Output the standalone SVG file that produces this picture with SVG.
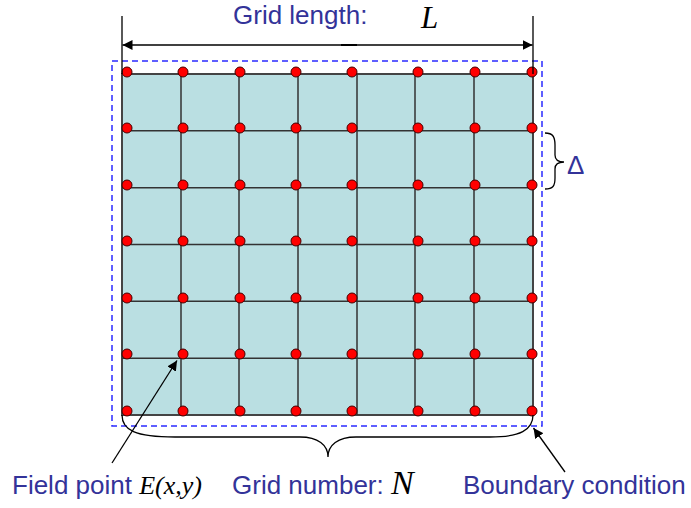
<svg xmlns="http://www.w3.org/2000/svg" width="691" height="508" viewBox="0 0 691 508">
<style>
.lbl{font-family:"Liberation Sans",Arial,sans-serif;font-size:26px;fill:#333399}
.math{font-family:"Liberation Serif","Times New Roman",serif;font-style:italic;fill:#000}
.gl{stroke:#333;stroke-width:1.5;fill:none}
.dot{fill:#ff0000;stroke:#400;stroke-width:1}
.ln{stroke:#000;stroke-width:1.3;fill:none}
</style>
<defs>
<marker id="ah" viewBox="0 0 10 10" refX="10" refY="5" markerWidth="10" markerHeight="10" markerUnits="userSpaceOnUse" orient="auto-start-reverse">
<path d="M0,0 L10,5 L0,10 z" fill="#000"/>
</marker>
</defs>
<rect width="691" height="508" fill="#fff"/>

<g id="grid">
<rect x="122" y="74" width="411" height="341" fill="#badfe2" stroke="#444" stroke-width="2"/>
<path class="gl" d="M181,74V415M239,74V415M298,74V415M357,74V415M415,74V415M474,74V415M122,130.8H533M122,187.7H533M122,244.5H533M122,301.3H533M122,358.2H533"/>
</g>

<g id="boundary">
<rect x="112" y="61" width="430" height="365" fill="none" stroke="#2a2aff" stroke-width="1.5" stroke-dasharray="6,4"/>
</g>

<g id="dots">
<g id="row1"><circle class="dot" cx="127" cy="72" r="5"/><circle class="dot" cx="183" cy="72" r="5"/><circle class="dot" cx="240" cy="72" r="5"/><circle class="dot" cx="296" cy="72" r="5"/><circle class="dot" cx="352" cy="72" r="5"/><circle class="dot" cx="418" cy="72" r="5"/><circle class="dot" cx="475" cy="72" r="5"/><circle class="dot" cx="532" cy="72" r="5"/></g>
<g id="row2"><circle class="dot" cx="127" cy="128" r="5"/><circle class="dot" cx="183" cy="128" r="5"/><circle class="dot" cx="240" cy="128" r="5"/><circle class="dot" cx="296" cy="128" r="5"/><circle class="dot" cx="352" cy="128" r="5"/><circle class="dot" cx="418" cy="128" r="5"/><circle class="dot" cx="475" cy="128" r="5"/><circle class="dot" cx="532" cy="128" r="5"/></g>
<g id="row3"><circle class="dot" cx="127" cy="185" r="5"/><circle class="dot" cx="183" cy="185" r="5"/><circle class="dot" cx="240" cy="185" r="5"/><circle class="dot" cx="296" cy="185" r="5"/><circle class="dot" cx="352" cy="185" r="5"/><circle class="dot" cx="418" cy="185" r="5"/><circle class="dot" cx="475" cy="185" r="5"/><circle class="dot" cx="532" cy="185" r="5"/></g>
<g id="row4"><circle class="dot" cx="127" cy="241" r="5"/><circle class="dot" cx="183" cy="241" r="5"/><circle class="dot" cx="240" cy="241" r="5"/><circle class="dot" cx="296" cy="241" r="5"/><circle class="dot" cx="352" cy="241" r="5"/><circle class="dot" cx="418" cy="241" r="5"/><circle class="dot" cx="475" cy="241" r="5"/><circle class="dot" cx="532" cy="241" r="5"/></g>
<g id="row5"><circle class="dot" cx="127" cy="298" r="5"/><circle class="dot" cx="183" cy="298" r="5"/><circle class="dot" cx="240" cy="298" r="5"/><circle class="dot" cx="296" cy="298" r="5"/><circle class="dot" cx="352" cy="298" r="5"/><circle class="dot" cx="418" cy="298" r="5"/><circle class="dot" cx="475" cy="298" r="5"/><circle class="dot" cx="532" cy="298" r="5"/></g>
<g id="row6"><circle class="dot" cx="127" cy="354" r="5"/><circle class="dot" cx="183" cy="354" r="5"/><circle class="dot" cx="240" cy="354" r="5"/><circle class="dot" cx="296" cy="354" r="5"/><circle class="dot" cx="352" cy="354" r="5"/><circle class="dot" cx="418" cy="354" r="5"/><circle class="dot" cx="475" cy="354" r="5"/><circle class="dot" cx="532" cy="354" r="5"/></g>
<g id="row7"><circle class="dot" cx="127" cy="411" r="5"/><circle class="dot" cx="183" cy="411" r="5"/><circle class="dot" cx="240" cy="411" r="5"/><circle class="dot" cx="296" cy="411" r="5"/><circle class="dot" cx="352" cy="411" r="5"/><circle class="dot" cx="418" cy="411" r="5"/><circle class="dot" cx="475" cy="411" r="5"/><circle class="dot" cx="532" cy="411" r="5"/></g>
</g>

<g id="connectors">
<path class="ln" d="M122,16V74M533,16V74"/>
<line class="ln" x1="122.5" y1="45" x2="532.5" y2="45" marker-start="url(#ah)" marker-end="url(#ah)"/>
<line x1="341" y1="45" x2="357" y2="45" stroke="#000" stroke-width="2"/>
<path class="ln" d="M545,133C553,133 555,137 555,145V155C555,160 558,162 564,162C558,162 555,164 555,169V178C555,186 553,189 545,189"/>
<path class="ln" d="M122,415C122,430 135,437 175,437L300,437C318,437 328,445 328,457C328,445 338,437 356,437L490,437C520,437 533,430 533,415"/>
<line class="ln" x1="112" y1="463" x2="177" y2="360.5" marker-end="url(#ah)"/>
<line class="ln" x1="565" y1="472" x2="533.5" y2="428" marker-end="url(#ah)"/>
</g>

<g id="labels">
<text class="lbl" x="233" y="24">Grid length:</text>
<text class="math" x="421" y="28" font-size="31">L</text>
<text class="lbl" x="567" y="174">Δ</text>
<text class="lbl" x="12" y="494">Field point <tspan class="math" font-size="26">E(x,y)</tspan></text>
<text class="lbl" x="232" y="494">Grid number: <tspan class="math" font-size="34">N</tspan></text>
<text class="lbl" x="463" y="494">Boundary condition</text>
</g>
</svg>
